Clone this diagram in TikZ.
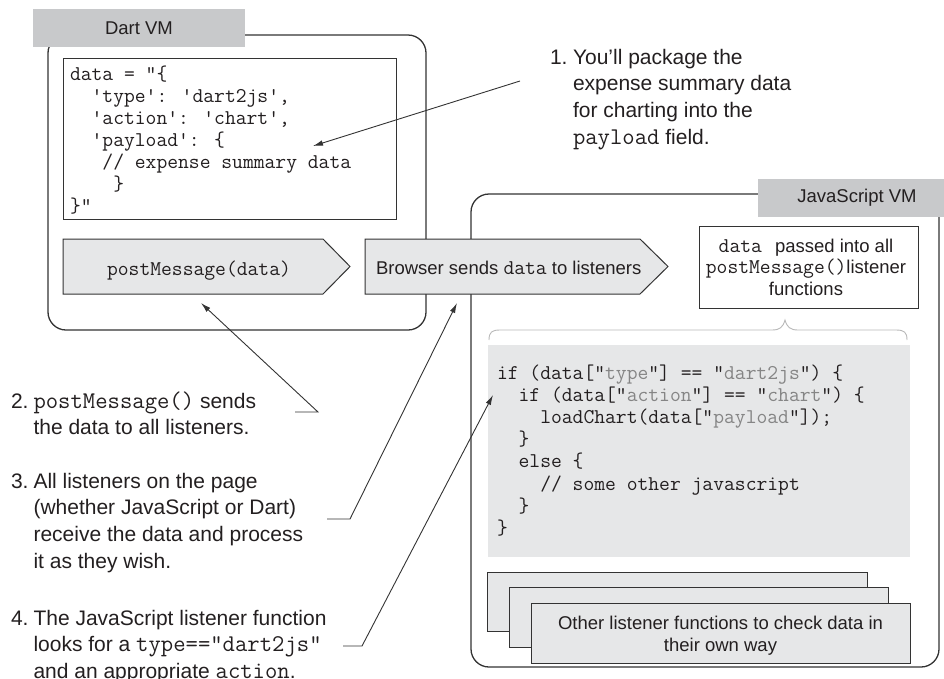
\documentclass[tikz,border=0pt]{standalone}
\usepackage{fontspec}
\setmainfont{Liberation Sans}
\usetikzlibrary{arrows.meta}
\definecolor{ink}{HTML}{231F20}
\definecolor{edge}{HTML}{333333}
\definecolor{lbl}{HTML}{C8C9CB}
\definecolor{boxfill}{HTML}{E6E7E8}
\definecolor{strg}{HTML}{858585}
\definecolor{bracec}{HTML}{B8B8B8}
\newcommand{\annfont}{\fontsize{21}{26.7}\selectfont}
\newcommand{\boxfont}{\fontsize{18.5}{22}\selectfont}
\newcommand{\passfont}{\fontsize{18.5}{21.5}\selectfont}
\newcommand{\codefont}{\fontsize{21}{22}\selectfont\ttfamily}
\newcommand{\jscodefont}{\fontsize{21}{22.2}\selectfont\ttfamily}
\newcommand{\boxtt}[1]{{\fontsize{21}{22}\selectfont\ttfamily #1}}
\newcommand{\anntt}[1]{{\fontsize{24}{26.7}\selectfont\ttfamily #1}}
\newcommand{\jsstr}[1]{\textcolor{strg}{#1}}
\begin{document}
\begin{tikzpicture}[x=1pt,y=-1pt,
  vm/.style={draw=edge, line width=1.3pt, rounded corners=18pt, inner sep=0pt, outer sep=0pt},
  vmlabel/.style={fill=lbl, draw=none, inner sep=0pt, outer sep=0pt, text=ink},
  plainbox/.style={draw=edge, line width=1pt, fill=white, inner sep=0pt, outer sep=0pt},
  grayshape/.style={draw=edge, line width=1pt, fill=boxfill, inner sep=0pt, outer sep=0pt},
  txt/.style={inner sep=0pt, outer sep=0pt, text=ink},
  lead/.style={draw=edge, line width=0.9pt},
  leadarrow/.style={lead, -{Latex[length=10pt,width=5.5pt]}}]
\useasboundingbox (0,0) rectangle (944,678);

% ---------- VM containers ----------
\node[vm, anchor=north west, minimum width=378, minimum height=295] (dartvm) at (48,35) {};
\node[vm, anchor=north west, minimum width=468, minimum height=473] (jsvm) at (471,194) {};

\node[vmlabel, anchor=north west, minimum width=212, minimum height=38, font=\boxfont] (dartlbl) at (33,9) {Dart VM};
\node[vmlabel, anchor=north west, minimum width=186, minimum height=38] (jslbl) at (758,179) {};
\node[txt, font=\boxfont] (jslbltext) at (857,198) {JavaScript VM};

% ---------- Dart code ----------
\node[plainbox, anchor=north west, minimum width=333, minimum height=161] (dartcode) at (63,58) {};
\node[txt, anchor=base west, font=\codefont] (dartcodetext) at (70,80) {\begin{tabular}[t]{@{}l@{}}
data = "\{\\
\phantom{00}'type': 'dart2js',\\
\phantom{00}'action': 'chart',\\
\phantom{00}'payload': \{\\
\phantom{000}// expense summary data\\
\phantom{0000}\}\\
\}"
\end{tabular}};

% ---------- message arrows ----------
\draw[grayshape] (63,239) -- (323,239) -- (350,266.5) -- (323,294) -- (63,294) -- cycle;
\node[txt, anchor=base, font=\boxfont] (pmtext) at (199,275) {\boxtt{postMessage(data)}};

\draw[grayshape] (365,239) -- (640,239) -- (668,266.5) -- (640,294) -- (365,294) -- cycle;
\node[txt, anchor=base west, font=\boxfont] (bstext) at (376,274) {Browser sends \boxtt{data} to listeners};

% ---------- data passed box ----------
\node[plainbox, anchor=north west, minimum width=219, minimum height=82] (passed) at (699,226) {};
\node[txt, anchor=base, font=\passfont] (passedtext) at (806,252) {\begin{tabular}[t]{@{}c@{}}
\boxtt{data}\hspace{13pt}passed into all\\
\boxtt{postMessage()}listener\\
functions
\end{tabular}};

% ---------- brace ----------
\draw[bracec, line width=0.9pt] (489,340) .. controls (489,332) and (492,330) .. (500,330)
  -- (772,330) .. controls (780,330) and (783,327) .. (785,320)
  .. controls (787,327) and (790,330) .. (798,330)
  -- (896,330) .. controls (904,330) and (907,332) .. (907,340);

% ---------- JS code ----------
\node[fill=boxfill, draw=none, inner sep=0pt, outer sep=0pt, anchor=north west, minimum width=422, minimum height=212] (jscode) at (488,345) {};
\node[txt, anchor=base west, font=\jscodefont] (jscodetext) at (497,379) {\begin{tabular}[t]{@{}l@{}}
if (data["\jsstr{type}"] == "\jsstr{dart2js}") \{\\
\phantom{00}if (data["\jsstr{action}"] == "\jsstr{chart}") \{\\
\phantom{0000}loadChart(data["\jsstr{payload}"]);\\
\phantom{00}\}\\
\phantom{00}else \{\\
\phantom{0000}// some other javascript\\
\phantom{00}\}\\
\}
\end{tabular}};

% ---------- other listeners (stack) ----------
\node[grayshape, anchor=north west, minimum width=380, minimum height=59] (other1) at (487,572) {};
\node[grayshape, anchor=north west, minimum width=379, minimum height=60] (other2) at (509,587) {};
\node[grayshape, anchor=north west, minimum width=379, minimum height=60] (other3) at (531,603) {};
\node[txt, anchor=base, font=\boxfont] (othertext) at (720.5,629) {\begin{tabular}[t]{@{}c@{}}
Other listener functions to check data in\\
their own way
\end{tabular}};

% ---------- annotations ----------
\node[txt, anchor=base west, font=\annfont] (ann1) at (550,64) {\begin{tabular}[t]{@{}l@{\hspace{5.5pt}}l@{}}
1. & You’ll package the\\
   & expense summary data\\
   & for charting into the\\
   & \anntt{payload} field.
\end{tabular}};
\node[txt, anchor=base west, font=\annfont] (ann2) at (11,408) {\begin{tabular}[t]{@{}l@{\hspace{5pt}}l@{}}
2. & \anntt{postMessage()} sends\\
   & the data to all listeners.
\end{tabular}};
\node[txt, anchor=base west, font=\annfont] (ann3) at (11,488) {\begin{tabular}[t]{@{}l@{\hspace{5pt}}l@{}}
3. & All listeners on the page\\
   & (whether JavaScript or Dart)\\
   & receive the data and process\\
   & it as they wish.
\end{tabular}};
\node[txt, anchor=base west, font=\annfont] (ann4) at (11,625) {\begin{tabular}[t]{@{}l@{\hspace{5pt}}l@{}}
4. & The JavaScript listener function\\
   & looks for a \anntt{type=="dart2js"}\\
   & and an appropriate \anntt{action}.
\end{tabular}};

% ---------- leader lines ----------
\coordinate (a1s) at (520,81);
\coordinate (a1e) at (313,146);
\coordinate (a2s) at (295,412);
\coordinate (a2k) at (318,412);
\coordinate (a2e) at (201,303);
\coordinate (a3s) at (327,519);
\coordinate (a3k) at (350,519);
\coordinate (a3e) at (457,303);
\coordinate (a4s) at (343,646);
\coordinate (a4k) at (362,646);
\coordinate (a4e) at (493,395);
\draw[leadarrow] (a1s) -- (a1e);
\draw[leadarrow] (a2s) -- (a2k) -- (a2e);
\draw[leadarrow] (a3s) -- (a3k) -- (a3e);
\draw[leadarrow] (a4s) -- (a4k) -- (a4e);
\end{tikzpicture}
\end{document}
